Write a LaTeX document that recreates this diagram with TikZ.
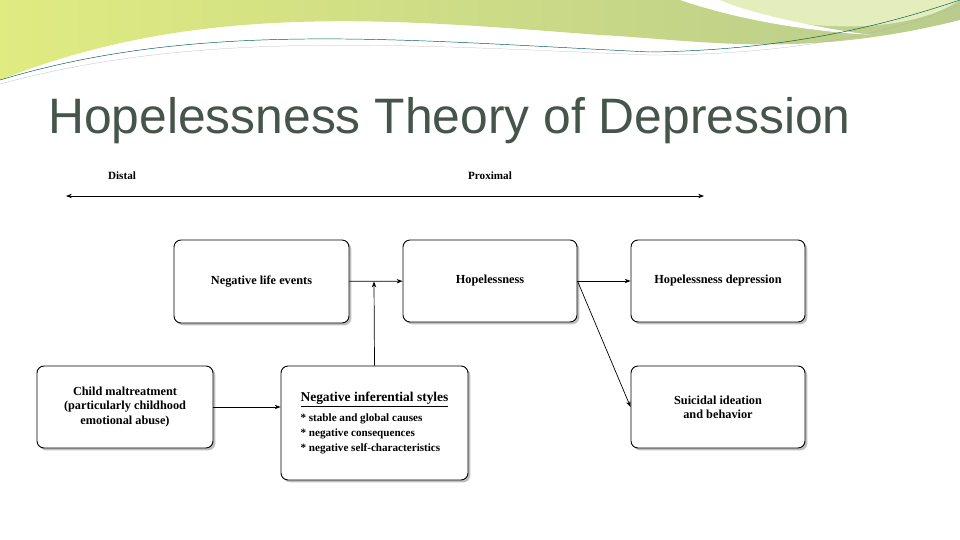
\documentclass[tikz,border=0pt]{standalone}
\usepackage{fontspec}
\setmainfont{Liberation Serif}
\newfontfamily\titlefont{Liberation Sans}
\usetikzlibrary{arrows.meta,shadows}
\definecolor{titlegray}{HTML}{46554B}
\definecolor{swoosha}{HTML}{D8E6A0}
\definecolor{swooshb}{HTML}{B9CC8C}
\tikzset{
  box/.style={draw,rounded corners=6pt,fill=white,thick,
    drop shadow={shadow xshift=2pt,shadow yshift=-2pt,opacity=0.5},
    align=center,font=\bfseries\fontsize{10.5}{12}\selectfont},
  link/.style={-{Stealth[length=5pt]},semithick}
}
\begin{document}
\begin{tikzpicture}[x=0.03cm,y=-0.03cm]
  \useasboundingbox (0,0) rectangle (960,540);
  % header swoosh
  \shade[left color=swoosha!80!yellow,right color=swooshb]
    (0,0) -- (960,0) -- (960,20) .. controls (800,60) and (700,40) .. (600,35)
    .. controls (400,20) and (200,0) .. (0,80) -- cycle;
  \fill[swoosha!70] (700,0) .. controls (780,30) and (900,40) .. (960,0) -- cycle;
  \fill[white] (680,0) .. controls (740,20) and (800,30) .. (870,35)
    .. controls (800,25) and (740,10) .. (720,0) -- cycle;
  \fill[white] (0,80) .. controls (150,25) and (300,15) .. (500,40)
    .. controls (400,30) and (200,30) .. (0,82) -- cycle;
  \draw[teal!70!black,thin] (0,80) .. controls (200,20) and (400,40) .. (650,52)
    .. controls (800,50) and (900,20) .. (960,0);
  \draw[gray!60,very thin] (0,84) .. controls (200,30) and (400,45) .. (650,55)
    .. controls (800,55) and (900,30) .. (960,5);
  \node[anchor=west,text=titlegray,font=\titlefont\fontsize{42.5}{48}\selectfont]
    (title) at (44,121) {Hopelessness Theory of Depression};
  % axis
  \node[font=\bfseries\fontsize{9.5}{10}\selectfont] (distal) at (122,176) {Distal};
  \node[font=\bfseries\fontsize{9.5}{10}\selectfont] (proximal) at (490,176) {Proximal};
  \coordinate (axl) at (66,196);
  \coordinate (axr) at (704,196);
  \draw[{Stealth[length=5pt]}-{Stealth[length=5pt]},semithick] (axl) -- (axr);
  % boxes
  \node[box,minimum width=175*0.03cm,minimum height=83*0.03cm] (life) at (261.5,281.5) {Negative life events};
  \node[box,minimum width=174*0.03cm,minimum height=82*0.03cm] (hope) at (490,281) {Hopelessness};
  \node[box,minimum width=174*0.03cm,minimum height=82*0.03cm] (dep) at (718,281) {Hopelessness depression};
  \node[box,minimum width=174*0.03cm,minimum height=82*0.03cm] (sui) at (718,407) {Suicidal ideation\\and behavior};
  \node[box,minimum width=176*0.03cm,minimum height=82*0.03cm] (child) at (125,407) {Child maltreatment\\(particularly childhood\\emotional abuse)};
  \node[box,minimum width=187*0.03cm,minimum height=114*0.03cm,align=left] (style) at (374.5,423)
    {\underline{\fontsize{11.5}{13}\selectfont Negative inferential styles}\\[5pt]
     \fontsize{9.5}{11}\selectfont * stable and global causes\\[1pt]
     \fontsize{9.5}{11}\selectfont * negative consequences\\[1pt]
     \fontsize{9.5}{11}\selectfont * negative self-characteristics};
  % connectors
  \coordinate (join) at (374,281.5);
  \draw[link] (life) -- (hope);
  \draw[link] (style.north) -- (join);
  \draw[link] (child.east) -- (child.east -| style.west);
  \draw[link] (hope) -- (dep);
  \draw[link] (hope.east) -- (sui.west);
\end{tikzpicture}
\end{document}
